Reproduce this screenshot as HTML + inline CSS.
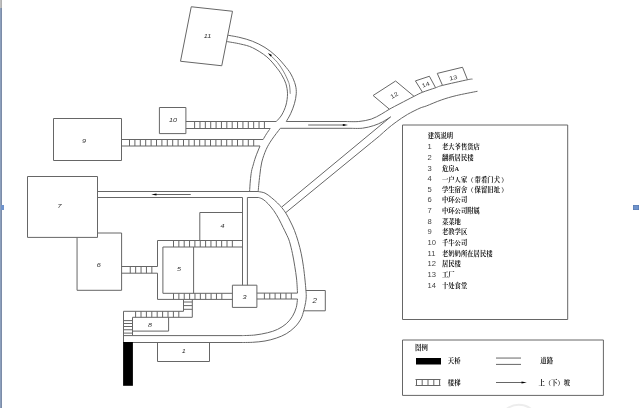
<!DOCTYPE html>
<html lang="zh"><head><meta charset="utf-8"><title>建筑说明</title>
<style>
html,body{margin:0;padding:0;background:#fff;}
body{width:640px;height:408px;overflow:hidden;position:relative;font-family:"Liberation Sans","Noto Sans CJK SC",sans-serif;}
svg{position:absolute;left:0;top:0;display:block;will-change:transform;}
.ls{position:absolute;left:0;top:0;width:2px;height:408px;background:linear-gradient(90deg,#8c9fbc 0,#8c9fbc 50%,#7c8ca8 50%,#7c8ca8 100%);}
.lt{position:absolute;left:0;top:0;width:2px;height:8px;background:linear-gradient(90deg,#c6c6c6,#a9a9a9);}
.lh{position:absolute;left:1px;top:205px;width:3px;height:5px;background:#6f93cc;}
.rh{position:absolute;left:633px;top:205px;width:6px;height:5px;background:#6f93cc;box-shadow:0 0 0 0.5px #5577aa inset;}
</style></head><body>
<svg width="640" height="408" viewBox="0 0 640 408">
<g fill="none" stroke="#666" stroke-width="1">
<path d="M191.25 6.75L232.50 11.25L221.75 65.75L180.50 61.25Z"/>
<path d="M159.40 107.50L185.90 107.50L185.90 133.60L159.40 133.60Z"/>
<path d="M53.50 118.50L121.50 118.50L121.50 160.50L53.50 160.50Z"/>
<path d="M27.50 176.50L97.50 176.50L97.50 237.40L27.50 237.40Z"/>
<path d="M97.50 233.00L121.60 233.00L121.60 290.30L77.05 290.30L77.05 237.50"/>
<path d="M232.40 285.20L256.90 285.20L256.90 307.40L232.40 307.40Z"/>
<path d="M305.90 290.50L325.30 290.50L325.30 310.80L303.80 310.80"/>
<path d="M157.50 342.50L209.50 342.50L209.50 361.50L157.50 361.50Z"/>
<path d="M132.50 331.10L168.60 331.10L168.60 317.30"/>
<path d="M389.40 109.20L373.10 95.50L395.60 81.00L414.00 96.30"/>
<path d="M422.50 92.25L415.40 80.90L429.40 76.25L435.60 87.75"/>
<path d="M442.50 85.40L437.25 73.40L462.50 67.25L467.50 79.75"/>
<path d="M199.80 240.50L199.80 212.50L242.50 212.50"/>
<path d="M157.50 266.50L157.50 240.50L242.50 240.50"/>
<path d="M157.50 273.20L157.50 299.40L232.50 299.40"/>
<path d="M232.50 293.30L162.90 293.30L162.90 247.00L242.50 247.00"/>
<path d="M193.60 247.00L193.60 293.30"/>
<path d="M173.50 240.50V247.00M178.85 240.50V247.00M184.20 240.50V247.00M189.55 240.50V247.00M194.90 240.50V247.00M200.25 240.50V247.00M205.60 240.50V247.00M210.95 240.50V247.00M216.30 240.50V247.00M221.65 240.50V247.00M227.00 240.50V247.00M232.35 240.50V247.00"/>
<path d="M173.50 293.30V299.40M178.87 293.30V299.40M184.24 293.30V299.40M189.61 293.30V299.40M194.98 293.30V299.40M200.35 293.30V299.40M205.72 293.30V299.40M211.09 293.30V299.40M216.46 293.30V299.40M221.83 293.30V299.40"/>
<path d="M121.50 266.50L157.50 266.50"/>
<path d="M121.50 273.20L157.50 273.20"/>
<path d="M130.25 266.50V273.20M135.65 266.50V273.20M141.05 266.50V273.20M146.45 266.50V273.20M151.85 266.50V273.20"/>
<path d="M183.50 299.40L183.50 311.30"/>
<path d="M192.30 299.40L192.30 317.30"/>
<path d="M183.50 302.00H192.30M183.50 305.60H192.30M183.50 309.30H192.30"/>
<path d="M123.50 311.30L183.50 311.30"/>
<path d="M132.50 317.30L192.30 317.30"/>
<path d="M135.60 311.30V317.30M141.00 311.30V317.30M146.40 311.30V317.30M151.80 311.30V317.30M157.20 311.30V317.30M162.60 311.30V317.30M168.00 311.30V317.30M173.40 311.30V317.30M178.80 311.30V317.30"/>
<path d="M123.50 311.30L123.50 342.50"/>
<path d="M132.50 317.30L132.50 335.60"/>
<path d="M123.50 320.60H132.50M123.50 323.50H132.50M123.50 326.50H132.50M123.50 329.75H132.50M123.50 333.10H132.50"/>
<path d="M185.90 121.50L276.25 121.50"/>
<path d="M185.90 128.50L270.20 128.50"/>
<path d="M194.60 121.50V128.50M199.97 121.50V128.50M205.34 121.50V128.50M210.71 121.50V128.50M216.08 121.50V128.50M221.45 121.50V128.50M226.82 121.50V128.50M232.19 121.50V128.50M237.56 121.50V128.50M242.93 121.50V128.50M248.30 121.50V128.50M253.67 121.50V128.50M259.04 121.50V128.50M264.41 121.50V128.50"/>
<path d="M121.50 139.50L263.10 139.50"/>
<path d="M121.50 146.00L260.00 146.00"/>
<path d="M129.50 139.50V146.00M134.90 139.50V146.00M140.30 139.50V146.00M145.70 139.50V146.00M151.10 139.50V146.00M156.50 139.50V146.00M161.90 139.50V146.00M167.30 139.50V146.00M172.70 139.50V146.00M178.10 139.50V146.00M183.50 139.50V146.00M188.90 139.50V146.00M194.30 139.50V146.00M199.70 139.50V146.00M205.10 139.50V146.00M210.50 139.50V146.00M215.90 139.50V146.00M221.30 139.50V146.00M226.70 139.50V146.00M232.10 139.50V146.00M237.50 139.50V146.00M242.90 139.50V146.00M248.30 139.50V146.00M253.70 139.50V146.00"/>
<path d="M256.90 293.10L297.50 293.10"/>
<path d="M256.90 299.00L297.50 299.00"/>
<path d="M264.40 293.10V299.00M269.75 293.10V299.00M275.10 293.10V299.00M280.60 293.10V299.00M286.00 293.10V299.00M291.30 293.10V299.00"/>
<path d="M227.80 35.20 C229.83 35.58 235.88 36.49 240.00 37.50 C244.12 38.51 248.33 39.58 252.50 41.25 C256.67 42.92 261.04 45.00 265.00 47.50 C268.96 50.00 272.71 52.92 276.25 56.25 C279.79 59.58 283.73 64.38 286.25 67.50 C288.77 70.62 289.88 72.08 291.40 75.00 C292.92 77.92 294.59 81.88 295.40 85.00 C296.21 88.12 296.42 90.62 296.25 93.75 C296.08 96.88 295.34 100.42 294.40 103.75 C293.46 107.08 291.96 110.79 290.60 113.75 C289.24 116.71 286.98 120.21 286.25 121.50" />
<path d="M226.60 41.50 C228.90 41.92 236.08 42.97 240.40 44.00 C244.72 45.03 248.08 45.55 252.50 47.70 C256.92 49.85 262.73 53.39 266.90 56.90 C271.07 60.41 274.93 65.57 277.50 68.75 C280.07 71.93 280.90 73.50 282.30 76.00 C283.70 78.50 285.03 80.79 285.90 83.75 C286.77 86.71 287.48 90.21 287.50 93.75 C287.52 97.29 286.97 101.46 286.00 105.00 C285.03 108.54 283.32 112.25 281.70 115.00 C280.07 117.75 277.16 120.42 276.25 121.50" />
<path d="M286.25 121.5L345 121.5" />
<path d="M345.00 121.50 C347.29 121.50 354.38 121.90 358.75 121.50 C363.12 121.10 367.50 120.32 371.25 119.10 C375.00 117.88 378.23 115.85 381.25 114.20 C384.27 112.55 386.27 110.97 389.40 109.20 C392.52 107.43 395.92 105.73 400.00 103.60 C404.08 101.47 410.15 98.29 413.90 96.40 C417.65 94.51 418.88 93.69 422.50 92.25 C426.12 90.81 432.27 88.89 435.60 87.75 C438.93 86.61 437.18 86.73 442.50 85.40 C447.82 84.07 462.50 80.80 467.50 79.75 C472.50 78.70 471.67 79.21 472.50 79.10" />
<path d="M280.3 128.3L350 128.3" />
<path d="M350.00 128.30 C352.08 128.28 358.54 128.65 362.50 128.20 C366.46 127.75 370.42 126.65 373.75 125.60 C377.08 124.55 379.69 123.35 382.50 121.90 C385.31 120.45 389.25 117.73 390.60 116.90" />
<path d="M270.20 128.50 C269.58 129.38 267.68 131.97 266.50 133.80 C265.32 135.63 263.67 138.55 263.10 139.50" />
<path d="M260.00 146.00 C259.27 147.83 256.73 153.83 255.60 157.00 C254.47 160.17 253.88 162.62 253.20 165.00 C252.52 167.38 251.98 168.63 251.50 171.30 C251.02 173.97 250.62 177.63 250.30 181.00 C249.98 184.37 249.72 189.75 249.60 191.50" />
<path d="M280.30 128.30 C278.87 130.22 274.05 136.28 271.70 139.80 C269.35 143.32 267.85 145.70 266.20 149.40 C264.55 153.10 262.85 157.82 261.80 162.00 C260.75 166.18 260.42 170.58 259.90 174.50 C259.38 178.42 258.98 182.67 258.70 185.50 C258.42 188.33 258.28 190.50 258.20 191.50" />
<path d="M97.50 191.50L258.10 191.50"/>
<path d="M97.50 197.50L242.50 197.50L242.50 285.20"/>
<path d="M247.40 285.20L247.40 197.50L258.75 197.50"/>
<path d="M258.10 191.50 C259.25 191.77 262.81 192.10 265.00 193.10 C267.19 194.10 269.17 195.85 271.25 197.50 C273.33 199.15 275.73 201.29 277.50 203.00 C279.27 204.71 280.44 205.96 281.90 207.75 C283.36 209.54 284.80 211.38 286.25 213.75 C287.70 216.12 289.24 219.24 290.60 222.00 C291.96 224.76 293.15 227.09 294.40 230.30 C295.65 233.51 296.96 237.34 298.10 241.25 C299.24 245.16 300.37 249.58 301.25 253.75 C302.13 257.92 302.77 261.88 303.40 266.25 C304.02 270.62 304.58 276.04 305.00 280.00 C305.42 283.96 305.69 287.29 305.90 290.00 C306.11 292.71 306.30 294.17 306.25 296.25 C306.20 298.33 306.02 300.11 305.60 302.50 C305.18 304.89 304.52 307.89 303.75 310.60 C302.98 313.31 302.46 316.03 301.00 318.75 C299.54 321.47 297.46 324.40 295.00 326.90 C292.54 329.40 289.38 331.88 286.25 333.75 C283.12 335.62 279.79 336.89 276.25 338.10 C272.71 339.31 268.96 340.30 265.00 341.00 C261.04 341.70 256.67 342.05 252.50 342.30 C248.33 342.55 242.08 342.47 240.00 342.50" />
<path d="M240.00 342.50L123.50 342.50"/>
<path d="M258.75 197.50 C259.48 197.82 261.54 198.36 263.10 199.40 C264.66 200.44 266.33 201.88 268.10 203.75 C269.88 205.62 271.98 208.10 273.75 210.60 C275.52 213.10 277.19 215.93 278.75 218.75 C280.31 221.57 281.84 224.96 283.10 227.50 C284.36 230.04 285.25 231.71 286.30 234.00 C287.35 236.29 288.37 237.96 289.40 241.25 C290.43 244.54 291.61 249.58 292.50 253.75 C293.39 257.92 294.07 262.04 294.75 266.25 C295.43 270.46 296.14 274.52 296.60 279.00 C297.06 283.48 297.35 290.75 297.50 293.10" />
<path d="M297.50 299.00 C297.29 300.42 297.08 304.62 296.25 307.50 C295.42 310.38 294.17 313.54 292.50 316.25 C290.83 318.96 288.75 321.56 286.25 323.75 C283.75 325.94 280.62 327.90 277.50 329.40 C274.38 330.90 271.25 331.82 267.50 332.75 C263.75 333.68 259.17 334.52 255.00 335.00 C250.83 335.48 244.58 335.50 242.50 335.60" />
<path d="M242.50 335.60L123.50 335.60"/>
<path d="M281.90 206.90L390.60 116.90"/>
<path d="M285.6 212.75L370 143.7" />
<path d="M370.00 143.70 C371.57 142.42 376.48 138.49 379.40 136.00 C382.32 133.51 384.69 131.10 387.50 128.75 C390.31 126.40 392.92 124.29 396.25 121.90 C399.58 119.51 403.54 116.70 407.50 114.40 C411.46 112.10 416.88 109.50 420.00 108.10 C423.12 106.70 422.71 107.35 426.25 106.00 C429.79 104.65 436.25 101.73 441.25 100.00 C446.25 98.27 450.21 97.06 456.25 95.60 C462.29 94.14 473.96 91.97 477.50 91.25" />
<path d="M269.60 54.60 C270.92 55.92 275.14 59.62 277.50 62.50 C279.86 65.38 281.98 68.82 283.75 71.90 C285.52 74.98 287.12 78.65 288.10 81.00 C289.08 83.35 289.24 83.88 289.60 86.00 C289.96 88.12 290.14 92.46 290.25 93.75" stroke-width="0.8"/>
<path d="M308.20 125.00L345.00 125.00"/>
<path d="M154.00 194.50L190.75 194.50"/>
<path d="M402.50 125.00L567.70 125.00L567.70 319.50L402.50 319.50Z"/>
<path d="M402.50 340.00L603.40 340.00L603.40 395.40L402.50 395.40Z"/>
<path d="M496.00 358.05L521.00 358.05"/>
<path d="M496.00 364.40L521.00 364.40"/>
<path d="M415.50 379.50L440.50 379.50"/>
<path d="M415.50 385.50L440.50 385.50"/>
<path d="M416.50 379.50V385.50M422.20 379.50V385.50M428.00 379.50V385.50M433.80 379.50V385.50M439.60 379.50V385.50"/>
<path d="M496.00 382.50L523.00 382.50"/>
</g>
<circle cx="518.8" cy="424.8" r="20" fill="none" stroke="#ededed" stroke-width="2"/>
<g fill="#000">
<rect x="123.1" y="342" width="9.8" height="43.8"/>
<rect x="416" y="358" width="25" height="6.5"/>
<path d="M348 125L342.8 124L342.8 126Z"/>
<path d="M151.3 194.5L156.5 193.5L156.5 195.5Z"/>
<path d="M526.8 382.5L521.5 381.5L521.5 383.5Z"/>
<path d="M267.8 53.0L272.0 55.0L270.6 56.4Z"/>
</g>
<g font-family="'Liberation Sans', sans-serif" fill="#333">
<text transform="translate(207.5 35.3) rotate(0) scale(1.25 1)" font-size="5.8" text-anchor="middle" dominant-baseline="central" font-style="italic">11</text>
<text transform="translate(173.0 120.2) rotate(0) scale(1.25 1)" font-size="5.8" text-anchor="middle" dominant-baseline="central" font-style="italic">10</text>
<text transform="translate(83.9 140.4) rotate(0) scale(1.25 1)" font-size="5.8" text-anchor="middle" dominant-baseline="central" font-style="italic">9</text>
<text transform="translate(59.4 205.4) rotate(0) scale(1.25 1)" font-size="5.8" text-anchor="middle" dominant-baseline="central" font-style="italic">7</text>
<text transform="translate(98.7 265.2) rotate(0) scale(1.25 1)" font-size="5.8" text-anchor="middle" dominant-baseline="central" font-style="italic">6</text>
<text transform="translate(178.9 268.4) rotate(0) scale(1.25 1)" font-size="5.8" text-anchor="middle" dominant-baseline="central" font-style="italic">5</text>
<text transform="translate(222.5 226.2) rotate(0) scale(1.25 1)" font-size="5.8" text-anchor="middle" dominant-baseline="central" font-style="italic">4</text>
<text transform="translate(244.6 297.2) rotate(0) scale(1.25 1)" font-size="5.8" text-anchor="middle" dominant-baseline="central" font-style="italic">3</text>
<text transform="translate(314.7 300.7) rotate(0) scale(1.25 1)" font-size="6.4" text-anchor="middle" dominant-baseline="central" font-style="italic">2</text>
<text transform="translate(183.8 350.8) rotate(0) scale(1.25 1)" font-size="5.8" text-anchor="middle" dominant-baseline="central" font-style="italic">1</text>
<text transform="translate(150.0 324.3) rotate(0) scale(1.25 1)" font-size="5.8" text-anchor="middle" dominant-baseline="central" font-style="italic">8</text>
<text transform="translate(394.2 95.0) rotate(-30) scale(1.25 1)" font-size="5.8" text-anchor="middle" dominant-baseline="central" font-style="normal">12</text>
<text transform="translate(425.6 84.4) rotate(-18) scale(1.25 1)" font-size="5.8" text-anchor="middle" dominant-baseline="central" font-style="normal">14</text>
<text transform="translate(453.2 77.5) rotate(-13) scale(1.25 1)" font-size="5.8" text-anchor="middle" dominant-baseline="central" font-style="normal">13</text>
</g>
<g dominant-baseline="central">
<text x="427.8" y="135.2" font-family="'Liberation Serif', 'Noto Serif CJK SC', serif" font-weight="bold" font-size="6.35" fill="#111">建筑说明</text>
<text x="427.5" y="146.7" font-family="'Liberation Sans', sans-serif" font-size="7.6" fill="#444">1</text>
<text x="441.9" y="146.7" font-family="'Liberation Serif', 'Noto Serif CJK SC', serif" font-weight="bold" font-size="6.35" fill="#111">老大爷售货店</text>
<text x="427.5" y="157.4" font-family="'Liberation Sans', sans-serif" font-size="7.6" fill="#444">2</text>
<text x="441.9" y="157.4" font-family="'Liberation Serif', 'Noto Serif CJK SC', serif" font-weight="bold" font-size="6.35" fill="#111">翻新居民楼</text>
<text x="427.5" y="168.0" font-family="'Liberation Sans', sans-serif" font-size="7.6" fill="#444">3</text>
<text x="441.9" y="168.0" font-family="'Liberation Serif', 'Noto Serif CJK SC', serif" font-weight="bold" font-size="6.35" fill="#111">危房A</text>
<text x="427.5" y="178.6" font-family="'Liberation Sans', sans-serif" font-size="7.6" fill="#444">4</text>
<text y="178.6" font-family="'Liberation Serif', 'Noto Serif CJK SC', serif" font-weight="bold" font-size="6.35" fill="#111"><tspan x="441.9">一户人家（</tspan><tspan x="474.6">带看门犬</tspan><tspan x="501.3">）</tspan></text>
<text x="427.5" y="189.3" font-family="'Liberation Sans', sans-serif" font-size="7.6" fill="#444">5</text>
<text y="189.3" font-family="'Liberation Serif', 'Noto Serif CJK SC', serif" font-weight="bold" font-size="6.35" fill="#111"><tspan x="441.9">学生宿舍（</tspan><tspan x="474.6">保留旧址</tspan><tspan x="501.3">）</tspan></text>
<text x="427.5" y="199.9" font-family="'Liberation Sans', sans-serif" font-size="7.6" fill="#444">6</text>
<text x="441.9" y="199.9" font-family="'Liberation Serif', 'Noto Serif CJK SC', serif" font-weight="bold" font-size="6.35" fill="#111">中环公司</text>
<text x="427.5" y="210.6" font-family="'Liberation Sans', sans-serif" font-size="7.6" fill="#444">7</text>
<text x="441.9" y="210.6" font-family="'Liberation Serif', 'Noto Serif CJK SC', serif" font-weight="bold" font-size="6.35" fill="#111">中环公司附属</text>
<text x="427.5" y="221.2" font-family="'Liberation Sans', sans-serif" font-size="7.6" fill="#444">8</text>
<text x="441.9" y="221.2" font-family="'Liberation Serif', 'Noto Serif CJK SC', serif" font-weight="bold" font-size="6.35" fill="#111">菜菜地</text>
<text x="427.5" y="231.8" font-family="'Liberation Sans', sans-serif" font-size="7.6" fill="#444">9</text>
<text x="441.9" y="231.8" font-family="'Liberation Serif', 'Noto Serif CJK SC', serif" font-weight="bold" font-size="6.35" fill="#111">老教学区</text>
<text x="427.5" y="242.7" font-family="'Liberation Sans', sans-serif" font-size="7.6" fill="#444">10</text>
<text x="441.9" y="242.7" font-family="'Liberation Serif', 'Noto Serif CJK SC', serif" font-weight="bold" font-size="6.35" fill="#111">千牛公司</text>
<text x="427.5" y="253.4" font-family="'Liberation Sans', sans-serif" font-size="7.6" fill="#444">11</text>
<text x="441.9" y="253.4" font-family="'Liberation Serif', 'Noto Serif CJK SC', serif" font-weight="bold" font-size="6.35" fill="#111">老奶奶所在居民楼</text>
<text x="427.5" y="263.9" font-family="'Liberation Sans', sans-serif" font-size="7.6" fill="#444">12</text>
<text x="441.9" y="263.9" font-family="'Liberation Serif', 'Noto Serif CJK SC', serif" font-weight="bold" font-size="6.35" fill="#111">居民楼</text>
<text x="427.5" y="274.7" font-family="'Liberation Sans', sans-serif" font-size="7.6" fill="#444">13</text>
<text x="441.9" y="274.7" font-family="'Liberation Serif', 'Noto Serif CJK SC', serif" font-weight="bold" font-size="6.35" fill="#111">工厂</text>
<text x="427.5" y="285.1" font-family="'Liberation Sans', sans-serif" font-size="7.6" fill="#444">14</text>
<text x="441.9" y="285.1" font-family="'Liberation Serif', 'Noto Serif CJK SC', serif" font-weight="bold" font-size="6.35" fill="#111">十处食堂</text>
<text x="415" y="347.7" font-family="'Liberation Serif', 'Noto Serif CJK SC', serif" font-weight="bold" font-size="6.35" fill="#111" letter-spacing="0.15">图例</text>
<text x="447.8" y="360.6" font-family="'Liberation Serif', 'Noto Serif CJK SC', serif" font-weight="bold" font-size="6.35" fill="#111">天桥</text>
<text x="447.8" y="382.4" font-family="'Liberation Serif', 'Noto Serif CJK SC', serif" font-weight="bold" font-size="6.35" fill="#111">楼梯</text>
<text x="540.3" y="360.6" font-family="'Liberation Serif', 'Noto Serif CJK SC', serif" font-weight="bold" font-size="6.35" fill="#111">道路</text>
<text x="538.4" y="382.8" font-family="'Liberation Serif', 'Noto Serif CJK SC', serif" font-weight="bold" font-size="6.35" fill="#111">上（下）坡</text>
</g>
</svg>
<div class="ls"></div><div class="lt"></div><div class="lh"></div><div class="rh"></div>
</body></html>
